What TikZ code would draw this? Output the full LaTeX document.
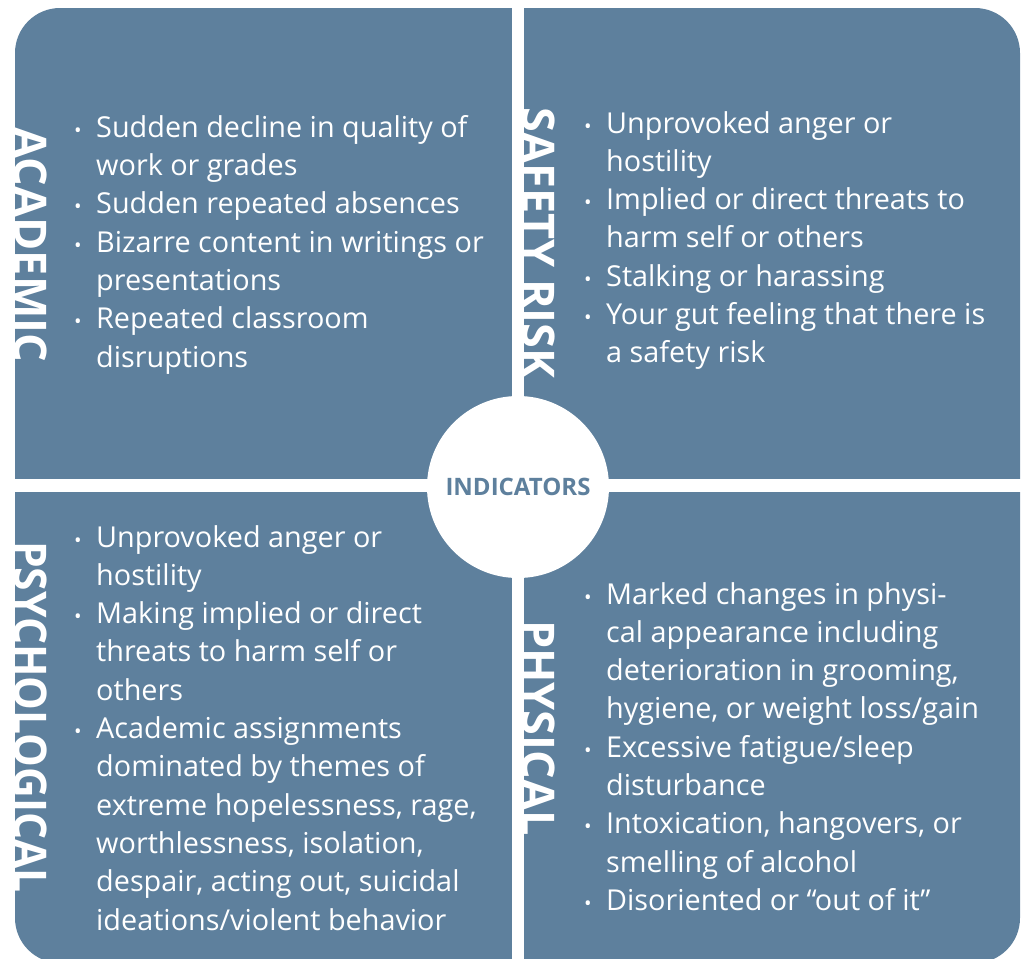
\documentclass[tikz,border=0pt]{standalone}
\usepackage{fontspec}
\setmainfont{Open Sans}
\usepackage{tikz}
\usetikzlibrary{positioning}
\definecolor{panel}{RGB}{94,128,157}
\newcommand{\bul}{\makebox[22pt][l]{\fontsize{20}{20}\selectfont\textbullet}}
\newcommand{\cont}{\hspace*{22pt}}

\begin{document}
\begin{tikzpicture}[x=1pt,y=-1pt,
    items/.style={anchor=north west, inner sep=0pt, align=left, text=white,
        font=\fontsize{28.8}{38.3}\selectfont},
    sidelabel/.style={rotate=-90, anchor=base, inner sep=0pt, text=white,
        font=\fontsize{45}{45}\selectfont\bfseries}]
    \useasboundingbox (0,0) rectangle (1021,959);
    % Panel and white cross
    \fill[panel, rounded corners=45pt] (15,8) rectangle (1020,963);
    \fill[white] (512,0) rectangle (524,959);
    \fill[white] (0,479) rectangle (1021,492);
    \node[circle, fill=white, minimum size=182pt, inner sep=0pt, text=panel,
        font=\fontsize{24}{24}\selectfont\bfseries] (ind) at (518,487) {INDICATORS};
    % Side labels
    \node[sidelabel] (acad) at (14,245) {ACADEMIC};
    \node[sidelabel] (safe) at (522,243) {SAFETY RISK};
    \node[sidelabel] (psych) at (14,717) {\scalebox{0.945}[1]{PSYCHOLOGICAL}};
    \node[sidelabel] (phys) at (522,728) {PHYSICAL};
    % Lists
    \node[items] (acadlist) at (74,115) {\bul Sudden decline in quality of\\ \cont work or grades\\
        \bul Sudden repeated absences\\ \bul Bizarre content in writings or\\ \cont presentations\\
        \bul Repeated classroom\\ \cont disruptions};
    \node[items] (safelist) at (584,111) {\bul Unprovoked anger or\\ \cont hostility\\
        \bul Implied or direct threats to\\ \cont harm self or others\\ \bul Stalking or harassing\\
        \bul Your gut feeling that there is\\ \cont a safety risk};
    \node[items] (psychlist) at (74,525) {\bul Unprovoked anger or\\ \cont hostility\\
        \bul Making implied or direct\\ \cont threats to harm self or\\ \cont others\\
        \bul Academic assignments\\ \cont dominated by themes of\\ \cont extreme hopelessness, rage,\\
        \cont worthlessness, isolation,\\ \cont despair, acting out, suicidal\\ \cont ideations/violent behavior};
    \node[items] (physlist) at (584,582) {\bul Marked changes in physi-\\ \cont cal appearance including\\
        \cont deterioration in grooming,\\ \cont hygiene, or weight loss/gain\\
        \bul Excessive fatigue/sleep\\ \cont disturbance\\ \bul Intoxication, hangovers, or\\
        \cont smelling of alcohol\\ \bul Disoriented or \char"201C out of it\char"201D};
\end{tikzpicture}
\end{document}
